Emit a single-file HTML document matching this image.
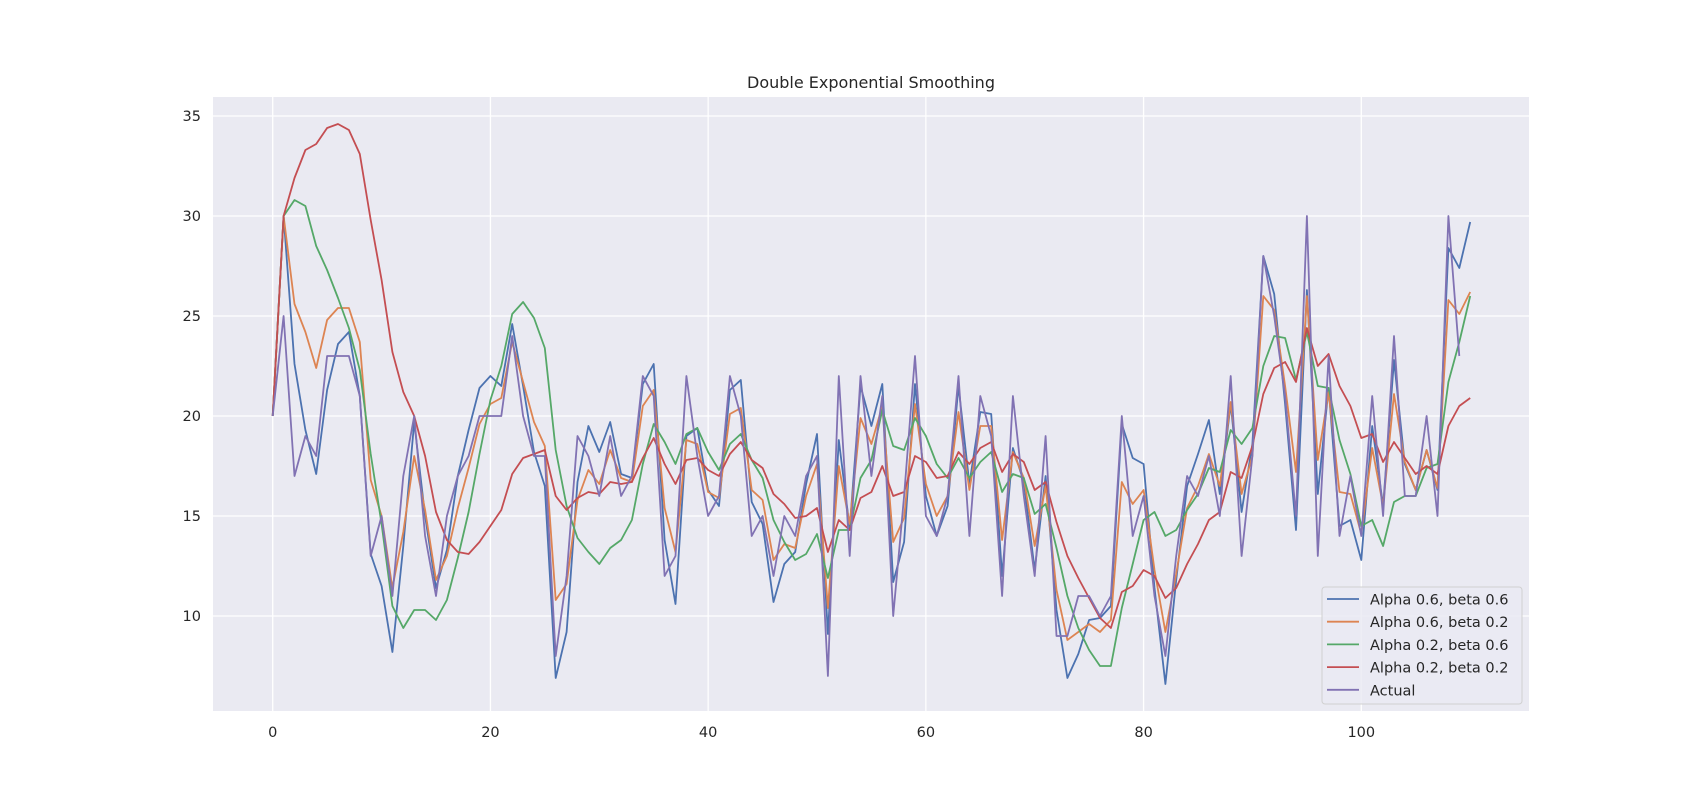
<!DOCTYPE html>
<html><head><meta charset="utf-8"><style>
body{margin:0;background:#fff;font-family:"Liberation Sans","DejaVu Sans",sans-serif;}
svg text{font-family:"DejaVu Sans","Liberation Sans",sans-serif;fill:#262626;}
</style></head><body>
<svg id="chart" width="1700" height="800" xmlns="http://www.w3.org/2000/svg">
<rect x="0" y="0" width="1700" height="800" fill="#fff"/>
<rect x="213" y="97" width="1316" height="614" fill="#eaeaf2"/>
<g id="grid"></g>
<g id="series"></g>
<g id="ticks"></g>
<text x="871" y="88" text-anchor="middle" font-size="16">Double Exponential Smoothing</text>
<g id="legend"></g>
</svg>
<script>
const actual=[20,25,17,19,18,23,23,23,21,13,15,11,17,20,14,11,15,17,18,20,20,20,24,20,18,18,8,12,19,18,16,19,16,17,22,21,12,13,22,18,15,16,22,20,14,15,12,15,14,17,18,7,22,13,22,17,21,10,16,23,15,14,16,22,14,21,19,11,21,16,12,19,9,9,11,11,10,11,20,14,16,11,8,13,17,16,18,15,22,13,18,28,25,21,15,30,13,23,14,17,14,21,15,24,16,16,20,15,30,23];
const a6b6=[20,30,22.6,19.3,17.1,21.3,23.6,24.2,21,13.1,11.5,8.2,13.5,19.7,15,11.4,13.3,17,19.3,21.4,22,21.5,24.6,21.5,18.2,16.5,6.9,9.2,16.7,19.5,18.2,19.7,17.1,16.9,21.6,22.6,13.8,10.6,19,19.4,16.3,15.5,21.3,21.8,15.7,14.6,10.7,12.6,13.2,16.6,19.1,9.1,18.8,14.4,21.5,19.5,21.6,11.7,13.7,21.6,16,14,15.5,21.5,16.6,20.2,20.1,12,18.4,16.7,12.3,17,10.3,6.9,8.1,9.8,9.9,10.5,19.6,17.9,17.6,11.4,6.6,11.8,16.5,18.1,19.8,16.1,20.6,15.2,18.6,28,26.1,20.6,14.3,26.3,16.1,21.4,14.5,14.8,12.8,19.5,15.5,22.8,17.6,16.3,18.3,16.3,28.4,27.4,29.7];
const a6b2=[20,30,25.6,24.2,22.4,24.8,25.4,25.4,23.7,16.8,15,11.4,14.2,18,15.3,11.8,13,15.4,17.4,19.6,20.6,20.9,23.7,21.7,19.7,18.5,10.8,11.6,15.8,17.3,16.6,18.3,16.9,16.7,20.5,21.3,15.4,13.2,18.8,18.6,16.2,15.9,20.1,20.4,16.3,15.8,12.8,13.6,13.4,16,17.6,10.4,17.5,14.6,19.9,18.6,20.5,13.7,14.9,20.6,16.6,15,16,20.2,16.3,19.5,19.5,13.8,18.2,16.9,13.5,16.5,11.3,8.8,9.2,9.6,9.2,9.8,16.7,15.6,16.3,12.3,9.2,12.1,15.4,16.5,18.1,16.5,20.7,16.1,18,26,25.3,21.5,17.2,26,17.8,21.2,16.2,16.1,14.1,18.4,15.5,21.1,17.7,16.3,18.3,16.4,25.8,25.1,26.2];
const a2b6=[20,30,30.8,30.5,28.5,27.3,25.9,24.4,22.3,18.1,14.6,10.5,9.4,10.3,10.3,9.8,10.8,12.9,15.2,18.1,20.8,22.5,25.1,25.7,24.9,23.4,18.3,15.5,13.9,13.2,12.6,13.4,13.8,14.8,17.6,19.6,18.7,17.6,19.1,19.4,18.2,17.3,18.6,19.1,17.8,16.9,14.8,13.7,12.8,13.1,14.1,11.9,14.3,14.3,16.9,17.8,20.3,18.5,18.3,19.9,19,17.6,16.9,17.9,16.9,17.7,18.2,16.2,17.1,16.9,15.1,15.6,13.4,11,9.4,8.3,7.5,7.5,10.4,12.6,14.8,15.2,14,14.3,15.3,16.1,17.4,17.2,19.3,18.6,19.4,22.5,24,23.9,21.8,24.2,21.5,21.4,18.8,17.1,14.5,14.8,13.5,15.7,16,16,17.4,17.6,21.7,23.7,26];
const a2b2=[20,30,31.9,33.3,33.6,34.4,34.6,34.3,33.1,29.8,26.8,23.2,21.2,20,18,15.2,13.8,13.2,13.1,13.7,14.5,15.3,17.1,17.9,18.1,18.3,16,15.3,15.9,16.2,16.1,16.7,16.6,16.7,17.9,18.9,17.6,16.6,17.8,17.9,17.3,17,18.1,18.7,17.8,17.4,16.1,15.6,14.9,15,15.4,13.2,14.8,14.3,15.9,16.2,17.5,16,16.2,18,17.7,16.9,17,18.2,17.6,18.4,18.7,17.2,18.1,17.7,16.3,16.7,14.7,13,11.9,10.9,9.9,9.4,11.2,11.5,12.3,12,10.9,11.4,12.6,13.6,14.8,15.2,17.2,16.9,18.5,21.1,22.4,22.7,21.7,24.4,22.5,23.1,21.5,20.5,18.9,19.1,17.7,18.7,17.9,17.1,17.5,17.1,19.5,20.5,20.9];
const seriesNames=["Alpha 0.6, beta 0.6","Alpha 0.6, beta 0.2","Alpha 0.2, beta 0.6","Alpha 0.2, beta 0.2","Actual"];
const xTicks=[0,20,40,60,80,100];
const yTicks=[10,15,20,25,30,35];

const NS="http://www.w3.org/2000/svg";
const X=v=>272.7+v*10.886;
const Y=v=>616-(v-10)*20;
function mk(tag,parent){const e=document.createElementNS(NS,tag);parent.appendChild(e);return e;}
const grid=document.getElementById('grid'),ticks=document.getElementById('ticks'),ser=document.getElementById('series'),leg=document.getElementById('legend');
xTicks.forEach(t=>{
  const l=mk('line',grid);l.setAttribute('x1',X(t));l.setAttribute('x2',X(t));l.setAttribute('y1',97);l.setAttribute('y2',711);l.setAttribute('stroke','#fff');l.setAttribute('stroke-width','1.3');
  
  
  const tx=mk('text',ticks);tx.setAttribute('x',X(t));tx.setAttribute('y',737);tx.setAttribute('text-anchor','middle');tx.setAttribute('font-size','14.5');tx.textContent=t;
  
  
});
yTicks.forEach(t=>{
  const l=mk('line',grid);l.setAttribute('x1',213);l.setAttribute('x2',1529);l.setAttribute('y1',Y(t));l.setAttribute('y2',Y(t));l.setAttribute('stroke','#fff');l.setAttribute('stroke-width','1.3');
  
  
  const tx=mk('text',ticks);tx.setAttribute('x',201);tx.setAttribute('y',Y(t)+5);tx.setAttribute('text-anchor','end');tx.setAttribute('font-size','14.5');tx.textContent=t;
  
  
});
const data=[a6b6,a6b2,a2b6,a2b2,actual];
const colors=["#4c72b0","#dd8452","#55a868","#c44e52","#8172b3"];
const order=[0,1,2,3,4];
order.forEach(i=>{
  const p=mk('polyline',ser);
  p.setAttribute('points',data[i].map((v,k)=>X(k).toFixed(1)+','+Y(v).toFixed(1)).join(' '));
  p.setAttribute('fill','none');p.setAttribute('stroke',colors[i]);p.setAttribute('stroke-width','1.8');p.setAttribute('stroke-linejoin','round');
  
  
});
const box=mk('rect',leg);box.setAttribute('x',1322);box.setAttribute('y',587);box.setAttribute('width',200);box.setAttribute('height',117);box.setAttribute('rx',3);box.setAttribute('fill','#eaeaf2');box.setAttribute('fill-opacity','0.8');box.setAttribute('stroke','#d0d0d0');


seriesNames.forEach((n,i)=>{
  const yy=599+i*22.7;
  const l=mk('line',leg);l.setAttribute('x1',1327);l.setAttribute('x2',1359);l.setAttribute('y1',yy);l.setAttribute('y2',yy);l.setAttribute('stroke',colors[i]);l.setAttribute('stroke-width','1.8');
  
  
  const t=mk('text',leg);t.setAttribute('x',1370);t.setAttribute('y',yy+5.5);t.setAttribute('font-size','14.5');t.textContent=n;
  
  
});
</script>
</body></html>
